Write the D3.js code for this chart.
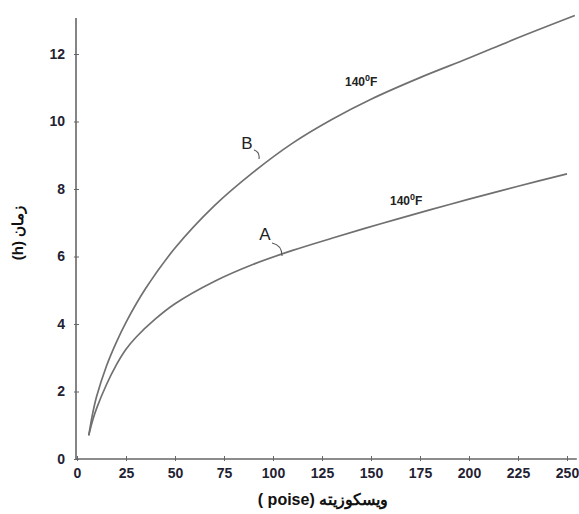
<!DOCTYPE html>
<html>
<head>
<meta charset="utf-8">
<script src="https://cdn.jsdelivr.net/npm/d3@7"></script>
<style>
  body { margin: 0; background: #fff; }
  svg { display: block; font-family: "Liberation Sans", Arial, sans-serif; }
  .tick text { font-weight: bold; font-size: 14px; fill: #1f2233; }
</style>
</head>
<body>
<div id="chart"></div>
<script>
// viscosity (poise) vs time (h)
const viscA = [6, 8, 10, 15, 20, 25, 30, 40, 50, 70, 90, 110, 130, 155, 180, 200, 225, 250];
const timeA = [0.7, 1.15, 1.5, 2.2, 2.78, 3.25, 3.6, 4.15, 4.6, 5.26, 5.77, 6.18, 6.54, 6.97, 7.38, 7.7, 8.08, 8.45];

const viscB = [6, 8, 10, 15, 20, 25, 35, 50, 70, 90, 110, 130, 150, 175, 200, 225, 254];
const timeB = [0.7, 1.35, 1.85, 2.75, 3.45, 4.05, 5.05, 6.25, 7.5, 8.5, 9.36, 10.06, 10.66, 11.3, 11.88, 12.48, 13.14];

const xTicks = [0, 25, 50, 75, 100, 125, 150, 175, 200, 225, 250];
const yTicks = [0, 2, 4, 6, 8, 10, 12];

const width = 579, height = 514;

const svg = d3.select("#chart").append("svg")
	.attr("width", width)
	.attr("height", height);

const x = d3.scaleLinear().domain([0, 250]).range([77, 567]);
const y = d3.scaleLinear().domain([0, 12]).range([459, 54]);

const axisColor = "#666";

// x axis
const xAxis = svg.append("g")
	.attr("transform", "translate(0," + y(0) + ")")
	.call(d3.axisBottom(x).tickValues(xTicks).tickSize(3).tickPadding(6));
xAxis.select(".domain").remove();
xAxis.selectAll(".tick line").attr("y1", -3).attr("y2", 2).attr("stroke", axisColor);
xAxis.append("line")
	.attr("x1", x(0) - 1).attr("x2", x(255))
	.attr("stroke", axisColor).attr("stroke-width", 1.6);

// y axis
const yAxis = svg.append("g")
	.attr("transform", "translate(" + (x(0) - 1) + ",0)")
	.call(d3.axisLeft(y).tickValues(yTicks).tickSize(3).tickPadding(8));
yAxis.select(".domain").remove();
yAxis.selectAll(".tick line").attr("x1", -2).attr("x2", 3).attr("stroke", axisColor);
yAxis.selectAll(".tick text").attr("dy", "0.3em");
yAxis.append("line")
	.attr("y1", y(0) + 1).attr("y2", y(13.07))
	.attr("stroke", axisColor).attr("stroke-width", 1.6);

// curves
const line = d3.line()
	.x(d => x(d[0]))
	.y(d => y(d[1]))
	.curve(d3.curveCatmullRom.alpha(0.5));

[[viscA, timeA], [viscB, timeB]].forEach(s => {
	svg.append("path")
		.datum(d3.zip(s[0], s[1]))
		.attr("d", line)
		.attr("fill", "none")
		.attr("stroke", "#707070")
		.attr("stroke-width", 1.7);
});

// curve letters with small hooks
svg.append("text").attr("x", 247).attr("y", 149)
	.attr("text-anchor", "middle").attr("font-size", 17).attr("fill", "#222").text("B");
svg.append("path").attr("d", "M254,150 Q260,152 259,159")
	.attr("fill", "none").attr("stroke", "#555").attr("stroke-width", 1.1);

svg.append("text").attr("x", 265).attr("y", 240)
	.attr("text-anchor", "middle").attr("font-size", 17).attr("fill", "#222").text("A");
svg.append("path").attr("d", "M272,243 Q282,245 282,256")
	.attr("fill", "none").attr("stroke", "#555").attr("stroke-width", 1.1);

// temperature labels
function tempLabel(px, py) {
	const t = svg.append("text").attr("x", px).attr("y", py)
		.attr("font-size", 12).attr("font-weight", "bold").attr("fill", "#222");
	t.append("tspan").text("140");
	t.append("tspan").attr("font-size", 9).attr("dy", -5).text("0");
	t.append("tspan").attr("dy", 5).text("F");
}
tempLabel(345, 86);
tempLabel(390, 205);

// axis titles
svg.append("text")
	.attr("transform", "translate(23,233) rotate(-90)")
	.attr("text-anchor", "middle")
	.attr("font-size", 15).attr("font-weight", "bold").attr("fill", "#111")
	.text("(h) زمان");

svg.append("text")
	.attr("x", 323).attr("y", 505)
	.attr("text-anchor", "middle")
	.attr("font-size", 16).attr("font-weight", "bold").attr("fill", "#111")
	.text("( poise) ويسكوزيته");
</script>
</body>
</html>
